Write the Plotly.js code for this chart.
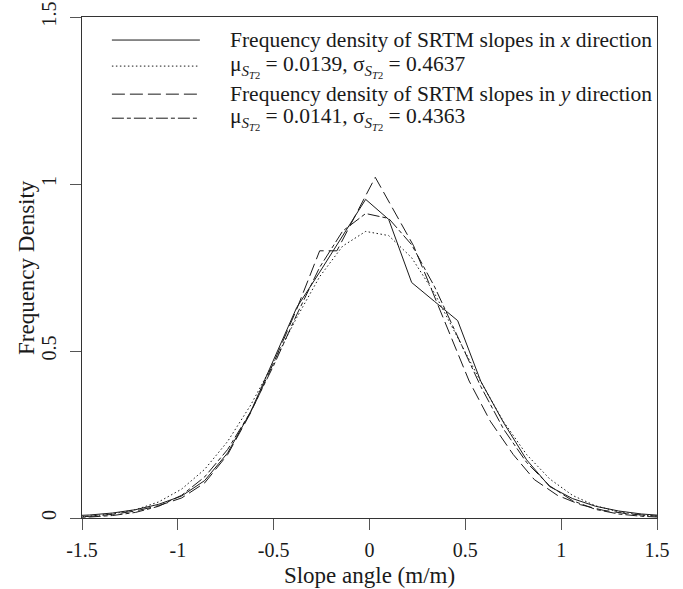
<!DOCTYPE html>
<html>
<head>
<meta charset="utf-8">
<script src="https://cdn.plot.ly/plotly-3.0.1.min.js"></script>
<style>html,body{margin:0;padding:0;background:#fff;}#chart{width:683px;height:589px;}</style>
</head>
<body>
<div id="chart"></div>
<script>
// Bin centres shared by the x-direction histogram and the two fitted normal curves
const binX = [-1.58,-1.46,-1.34,-1.22,-1.10,-0.98,-0.86,-0.74,-0.62,-0.50,-0.38,-0.26,-0.14,-0.02,0.10,0.22,0.34,0.46,0.58,0.70,0.82,0.94,1.06,1.18,1.30,1.42,1.54];
// Frequency density of SRTM slopes in x direction (solid)
const densX = [0.006,0.009,0.015,0.025,0.041,0.066,0.112,0.195,0.318,0.475,0.630,0.736,0.845,0.954,0.894,0.705,0.648,0.591,0.410,0.285,0.174,0.094,0.058,0.035,0.021,0.012,0.007];
// Normal fit, mu = 0.0139, sigma = 0.4637 (dotted)
const fitX = [0.0023,0.0055,0.0122,0.0249,0.0481,0.0866,0.1457,0.2294,0.3380,0.4656,0.5997,0.7226,0.8142,0.8580,0.8456,0.7793,0.6718,0.5416,0.4083,0.2879,0.1898,0.1171,0.0675,0.0364,0.0184,0.0087,0.0038];
// Frequency density of SRTM slopes in y direction (long dashes)
const binY = [-1.58,-1.46,-1.34,-1.22,-1.10,-0.98,-0.86,-0.74,-0.62,-0.50,-0.38,-0.26,-0.17,0.03,0.23,0.40,0.52,0.63,0.75,0.86,0.98,1.10,1.22,1.34,1.46,1.58];
const densY = [0.003,0.005,0.011,0.021,0.037,0.060,0.105,0.190,0.315,0.465,0.625,0.800,0.800,1.020,0.815,0.575,0.410,0.290,0.190,0.115,0.068,0.040,0.023,0.013,0.007,0.004];
// Normal fit, mu = 0.0141, sigma = 0.4363 (dash-dot)
const fitY = [0.0012,0.0030,0.0074,0.0168,0.0351,0.0681,0.1230,0.2053,0.3180,0.4567,0.6081,0.7506,0.8591,0.9116,0.8969,0.8181,0.6918,0.5424,0.3943,0.2657,0.1661,0.0962,0.0517,0.0257,0.0119,0.0051,0.0020];

const xTicks = [-1.5,-1,-0.5,0,0.5,1,1.5];
const xTickText = ['-1.5','-1','-0.5','0','0.5','1','1.5'];
const yTicks = [0,0.5,1,1.5];
const yTickText = ['0','0.5','1','1.5'];

const xTitle = 'Slope angle (m/m)';
const yTitle = 'Frequency Density';
const legendLabels = [
  'Frequency density of SRTM slopes in <i>x</i> direction',
  'μ<sub><i>S</i><sub><i>T</i>2</sub></sub> = 0.0139, σ<sub><i>S</i><sub><i>T</i>2</sub></sub> = 0.4637',
  'Frequency density of SRTM slopes in <i>y</i> direction',
  'μ<sub><i>S</i><sub><i>T</i>2</sub></sub> = 0.0141, σ<sub><i>S</i><sub><i>T</i>2</sub></sub> = 0.4363'
];

const FONT = 'Liberation Serif';
const INK = '#1a1a1a';
const dashes = ['solid', '1.5px,2.5px', '13px,5px', '12px,3px,4px,3px'];

const traces = [
  {x: binX, y: densX, name: legendLabels[0]},
  {x: binX, y: fitX, name: legendLabels[1]},
  {x: binY, y: densY, name: legendLabels[2]},
  {x: binX, y: fitY, name: legendLabels[3]}
].map((t, i) => Object.assign(t, {
  type: 'scatter', mode: 'lines', showlegend: false, hoverinfo: 'skip',
  line: {color: INK, width: 1, dash: dashes[i]}
}));

// hand-built legend (long line samples as in the reference)
const rowsY = [0.954, 0.902, 0.846, 0.798];
const shapes = rowsY.map((yy, i) => ({
  type: 'line', xref: 'paper', yref: 'paper', x0: 0.052, x1: 0.205, y0: yy, y1: yy,
  line: {color: INK, width: 1, dash: dashes[i]}
}));
const annotations = rowsY.map((yy, i) => ({
  xref: 'paper', yref: 'paper', x: 0.254, y: yy, xanchor: 'left', yanchor: 'middle',
  text: legendLabels[i], showarrow: false, font: {family: FONT, size: 21.5, color: INK}
}));
// y-axis title placed as in the reference (close to the rotated tick labels)
annotations.push({
  xref: 'paper', yref: 'paper', x: -0.0965, y: 0.5, xanchor: 'center', yanchor: 'middle',
  textangle: -90, text: yTitle, showarrow: false, font: {family: FONT, size: 23, color: INK}
});

const layout = {
  width: 683, height: 589,
  margin: {l: 82, r: 26, t: 17, b: 71},
  paper_bgcolor: '#fff', plot_bgcolor: '#fff',
  font: {family: FONT, size: 20, color: INK},
  showlegend: false,
  xaxis: {
    range: [-1.5, 1.5], tickmode: 'array', tickvals: xTicks, ticktext: xTickText,
    ticks: 'outside', ticklen: 11, tickwidth: 1, tickcolor: '#555',
    showline: true, linecolor: '#333', linewidth: 1, mirror: true,
    showgrid: false, zeroline: false, ticklabelstandoff: 3,
    tickfont: {family: FONT, size: 20, color: INK},
    title: {text: xTitle, font: {family: FONT, size: 23, color: INK}, standoff: 6},
    automargin: false
  },
  yaxis: {
    range: [0, 1.5], tickmode: 'array', tickvals: yTicks, ticktext: yTickText,
    ticks: 'outside', ticklen: 11, tickwidth: 1, tickcolor: '#555', tickangle: -90,
    showline: true, linecolor: '#333', linewidth: 1, mirror: true,
    showgrid: false, zeroline: false, ticklabelstandoff: 6,
    tickfont: {family: FONT, size: 20, color: INK},
    automargin: false
  },
  shapes: shapes,
  annotations: annotations
};

Plotly.newPlot('chart', traces, layout, {staticPlot: true, displayModeBar: false});
</script>
</body>
</html>
